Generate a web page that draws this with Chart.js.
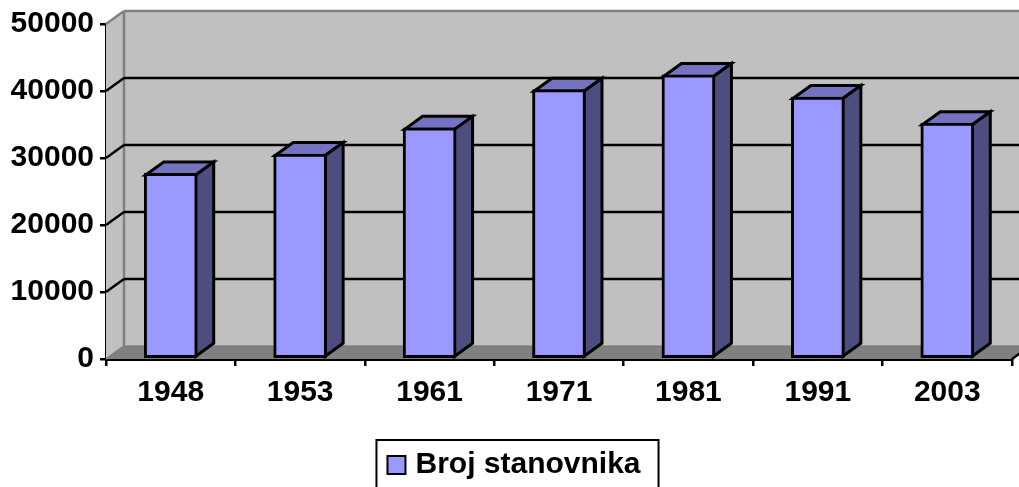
<!DOCTYPE html>
<html>
<head>
<meta charset="utf-8">
<title>Broj stanovnika</title>
<script src="https://cdn.jsdelivr.net/npm/chart.js@4"></script>
<style>
  html, body { margin: 0; background: #fff; }
  canvas { display: block; }
</style>
</head>
<body>
<canvas id="grafico" width="1019" height="487"></canvas>
<script>
const godine = ["1948", "1953", "1961", "1971", "1981", "1991", "2003"];
const stanovnici = [27700, 30600, 34500, 40200, 42400, 39100, 35200];
const nazivSerije = "Broj stanovnika";
const maxY = 50000;
const korakY = 10000;

// 3D depth of the Excel style box
const DX = 18;
const DY = -13;
const BOJA_BAR = "#9999ff";
const BOJA_VRH = "#7373bf";
const BOJA_BOK = "#4d4d80";
const BOJA_ZID = "#c0c0c0";
const BOJA_POD = "#808080";
const FONT = "'Liberation Sans', Arial, sans-serif";

function poly(ctx, pts, fill, stroke, lw) {
  ctx.beginPath();
  pts.forEach((p, i) => (i ? ctx.lineTo(p[0], p[1]) : ctx.moveTo(p[0], p[1])));
  ctx.closePath();
  if (fill) {
    ctx.fillStyle = fill;
    ctx.fill();
  }
  if (stroke) {
    ctx.strokeStyle = stroke;
    ctx.lineWidth = lw;
    ctx.lineJoin = "miter";
    ctx.stroke();
  }
}

function linija(ctx, x1, y1, x2, y2, color, lw) {
  ctx.beginPath();
  ctx.moveTo(x1, y1);
  ctx.lineTo(x2, y2);
  ctx.strokeStyle = color;
  ctx.lineWidth = lw;
  ctx.stroke();
}

const kutija3d = {
  id: "kutija3d",
  // the legend sits a little right of the canvas centre
  afterLayout(chart) {
    chart.legend.left += 5;
    chart.legend.right += 5;
    chart.legend.legendHitBoxes[0].left += 5;
  },
  // walls, floor and grid behind the bars
  beforeDatasetsDraw(chart) {
    const { ctx, chartArea: a, scales } = chart;
    const l = a.left, r = a.right, t = a.top, b = a.bottom;
    ctx.save();
    poly(ctx, [[l + DX, t + DY], [r + DX, t + DY], [r + DX, b + DY], [l + DX, b + DY]], BOJA_ZID);
    poly(ctx, [[l, t], [l + DX, t + DY], [l + DX, b + DY], [l, b]], BOJA_ZID);
    poly(ctx, [[l, b], [l + DX, b + DY], [r + DX, b + DY], [r, b]], BOJA_POD);
    linija(ctx, l + DX, b + DY, r + DX, b + DY, "#707070", 1);
    linija(ctx, l + DX, t + DY, l + DX, b + DY, BOJA_POD, 2.5);
    linija(ctx, l, b, l + DX, b + DY, BOJA_POD, 2);

    scales.y.ticks.forEach((tick) => {
      const y = scales.y.getPixelForValue(tick.value);
      const color = tick.value === maxY ? BOJA_POD : "#000";
      if (tick.value > 0) {
        linija(ctx, l, y, l + DX, y + DY, color, 2.5);
        linija(ctx, l + DX, y + DY, r + DX, y + DY, color, 2.5);
      }
    });
    linija(ctx, r, b, r + DX, b + DY, "#000", 2.5);

    // top and side faces, the front face comes from the bar dataset
    chart.getDatasetMeta(0).data.forEach((bar) => {
      const x1 = bar.x - bar.width / 2 + 1.5;
      const x2 = bar.x + bar.width / 2 - 1.5;
      const y1 = bar.y + 1.5;
      const y2 = bar.base - 1.5;
      poly(ctx, [[x1, y1], [x1 + DX, y1 + DY], [x2 + DX, y1 + DY], [x2, y1]], BOJA_VRH, "#000", 3);
      poly(ctx, [[x2, y1], [x2 + DX, y1 + DY], [x2 + DX, y2 + DY], [x2, y2]], BOJA_BOK, "#000", 3);
    });
    ctx.restore();
  },
  // frame and swatch of the legend
  afterDraw(chart) {
    const { ctx, legend } = chart;
    const hit = legend.legendHitBoxes[0];
    const cy = hit.top + hit.height / 2;
    ctx.save();
    ctx.strokeStyle = "#000";
    ctx.lineWidth = 2;
    ctx.strokeRect(hit.left - 10, hit.top - 10, hit.width + 28, 70);
    ctx.fillStyle = BOJA_BAR;
    ctx.fillRect(hit.left + 1, cy - 9, 18, 18);
    ctx.strokeRect(hit.left + 1, cy - 9, 18, 18);
    ctx.restore();
  }
};

new Chart(document.getElementById("grafico").getContext("2d"), {
  type: "bar",
  data: {
    labels: godine,
    datasets: [{
      label: nazivSerije,
      data: stanovnici,
      backgroundColor: BOJA_BAR,
      borderColor: "#000",
      borderWidth: 3,
      borderSkipped: false,
      barThickness: 53
    }]
  },
  options: {
    responsive: false,
    animation: false,
    layout: {
      autoPadding: false,
      padding: { left: 5, right: 7, top: 24, bottom: -3 }
    },
    plugins: {
      tooltip: { enabled: false },
      legend: {
        position: "bottom",
        labels: {
          boxWidth: 14,
          boxHeight: 14,
          padding: 6,
          color: "#000",
          font: { family: FONT, size: 30, weight: "bold" },
          generateLabels: () => [{
            text: nazivSerije,
            fillStyle: "transparent",
            strokeStyle: "transparent",
            lineWidth: 0,
            datasetIndex: 0
          }]
        }
      }
    },
    scales: {
      x: {
        afterFit(scale) { scale.height = 85; },
        border: { color: "#000", width: 3 },
        grid: { drawOnChartArea: false, tickColor: "#000", tickLength: 7, lineWidth: 2.5 },
        ticks: {
          color: "#000",
          padding: 9,
          maxRotation: 0,
          font: { family: FONT, size: 30, weight: "bold" }
        }
      },
      y: {
        min: 0,
        max: maxY,
        afterFit(scale) { scale.width = 101; },
        border: { color: "#000", width: 3 },
        grid: { drawOnChartArea: false, tickColor: "#000", tickLength: 6, lineWidth: 2.5 },
        ticks: {
          stepSize: korakY,
          color: "#000",
          padding: 6,
          font: { family: FONT, size: 30, weight: "bold" },
          callback: (v) => String(v)
        }
      }
    }
  },
  plugins: [kutija3d]
});
</script>
</body>
</html>
